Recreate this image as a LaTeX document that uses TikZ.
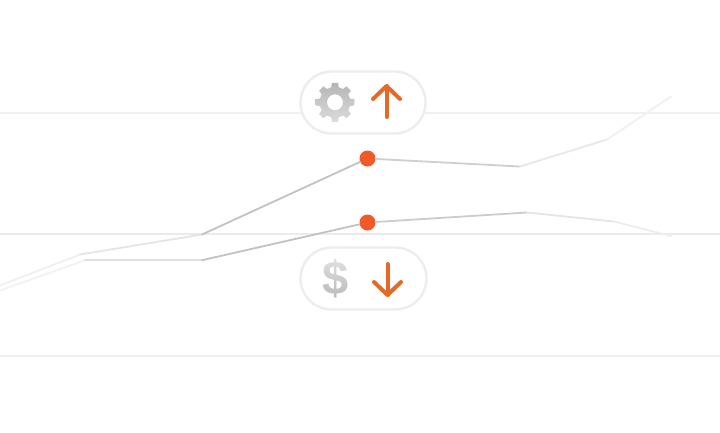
\documentclass[tikz,border=0pt]{standalone}
\usepackage{fontspec}
\setmainfont{Liberation Sans}
\usetikzlibrary{arrows,fadings}

\tikzset{
    gridline/.style={draw=#1,line width=2pt},
    trend/.style={draw=#1,line width=1.8pt,line cap=round,line join=round},
    pill/.style={shape=rectangle,rounded corners=31pt,draw=black!7,fill=white,line width=2.4pt,
        minimum width=125pt,minimum height=62pt,inner sep=0pt},
    marker/.style={shape=circle,fill=dotorange,minimum size=16pt,inner sep=0pt},
    dirarrow/.style={draw=arroworange,line width=4pt,line join=round,line cap=round}
}
\definecolor{dotorange}{HTML}{F05A28}
\definecolor{arroworange}{HTML}{E56A28}

\begin{document}
\begin{tikzpicture}[x=1pt,y=-1pt]
    \useasboundingbox[fill=white] (0,0) rectangle (720,432);
    % grid
    \coordinate (g0) at (0,112.5);  \coordinate (g1) at (720,112.5);
    \coordinate (g2) at (0,233.7);  \coordinate (g3) at (720,233.7);
    \coordinate (g4) at (0,355.5);  \coordinate (g5) at (720,355.5);
    \draw[gridline=black!6] (g0) -- (g1);
    \draw[gridline=black!8] (g2) -- (g3);
    \draw[gridline=black!6] (g4) -- (g5);
    % upper series
    \coordinate (a0) at (0,285.5);
    \coordinate (a1) at (80,254.5);
    \coordinate (a2) at (202,234.5);
    \node[marker] (a3) at (367.5,158.5) {};
    \coordinate (a4) at (520,166.5);
    \coordinate (a5) at (607,139.5);
    \coordinate (a6) at (671,96.5);
    \draw[trend=black!6] (a0) -- (a1);
    \draw[trend=black!10] (a1) -- (a2);
    \draw[trend=black!24] (a2) -- (a3);
    \draw[trend=black!19] (a3) -- (a4);
    \draw[trend=black!9] (a4) -- (a5);
    \draw[trend=black!6] (a5) -- (a6);
    % lower series
    \coordinate (b0) at (0,290.5);
    \coordinate (b1) at (85,260.2);
    \coordinate (b2) at (202,260.2);
    \node[marker] (b3) at (367.5,222.5) {};
    \coordinate (b4) at (527,212.5);
    \coordinate (b5) at (614,221.5);
    \coordinate (b6) at (671,236);
    \draw[trend=black!5] (b0) -- (b1);
    \draw[trend=black!12] (b1) -- (b2);
    \draw[trend=black!24] (b2) -- (b3);
    \draw[trend=black!20] (b3) -- (b4);
    \draw[trend=black!10] (b4) -- (b5);
    \draw[trend=black!7] (b5) -- (b6);
    % pills
    \node[pill] (up) at (363,102.5) {};
    \node[pill,minimum width=126pt] (down) at (363.5,278.5) {};
    % gear
    \shade[top color=black!29,bottom color=black!14,even odd rule,shift={(335,102.3)}]
        (-14:15.5)
        \foreach \a in {0,45,...,315} {
            -- (\a-14:15.5) -- (\a-9:19.7) -- (\a+9:19.7) -- (\a+14:15.5) -- (\a+31:15.5)
        } -- cycle (0,0) circle (8);
    % dollar
    \node[text=black!28,font=\bfseries\fontsize{47}{47}\selectfont,inner sep=0pt] (dollar) at (336,279) {\$};
    \fill[white,opacity=.6,path fading=south] (320,255) rectangle (352,301);
    % arrows
    \coordinate (p0) at (386.5,117);  \coordinate (p1) at (386.5,86);
    \coordinate (p2) at (373,99);     \coordinate (p3) at (400,99);
    \draw[dirarrow] (p0) -- (p1);
    \draw[dirarrow] (p2) -- (p1) -- (p3);
    \coordinate (q0) at (387.5,264);  \coordinate (q1) at (387.5,295);
    \coordinate (q2) at (374,282);    \coordinate (q3) at (401,282);
    \draw[dirarrow] (q0) -- (q1);
    \draw[dirarrow] (q2) -- (q1) -- (q3);
\end{tikzpicture}
\end{document}
